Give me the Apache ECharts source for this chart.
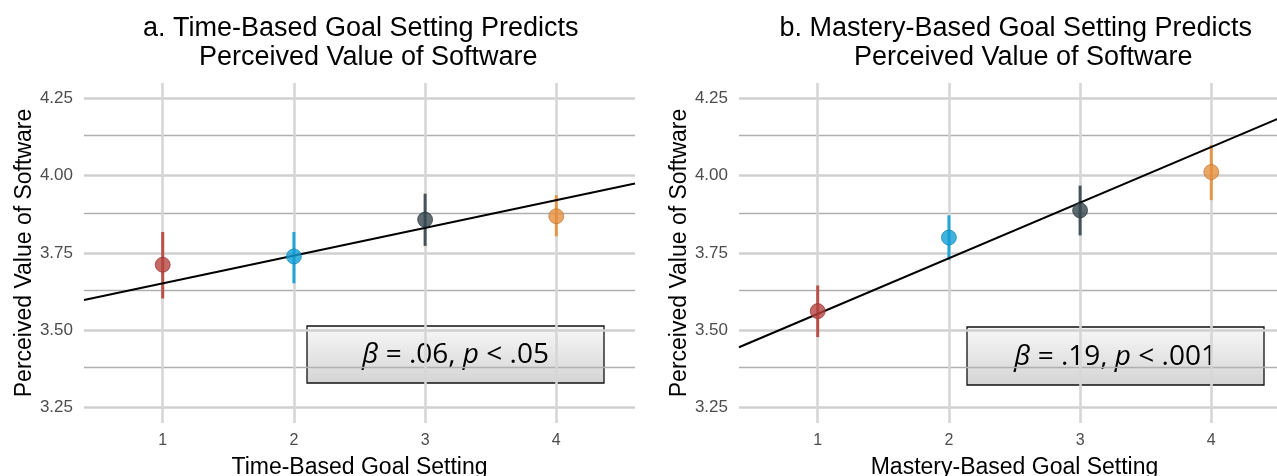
<!DOCTYPE html>
<html>
<head>
<meta charset="utf-8">
<script src="https://cdn.jsdelivr.net/npm/echarts@6/dist/echarts.min.js"></script>
<style>
html,body{margin:0;padding:0;background:#fff;overflow:hidden;width:1277px;height:476px;}
#chart{width:1300px;height:476px;}
</style>
</head>
<body>
<div id="chart"></div>
<script>
// ---- data ----
const xCats = [1, 2, 3, 4];
const yTicks = [3.25, 3.5, 3.75, 4.0, 4.25];
const yMinor = [3.375, 3.625, 3.875, 4.125];
const pointColors = ['#B5443E', '#129FD6', '#36474F', '#E5903F'];
const pointBorders = ['#8E2E2A', '#0B7FAD', '#222E33', '#B86E2C'];

const timeMeans = [3.712, 3.739, 3.858, 3.869];
const timeLow   = [3.603, 3.652, 3.773, 3.804];
const timeHigh  = [3.818, 3.818, 3.942, 3.937];
const timeFit   = [[0.4, 3.598], [4.6, 3.975]];

const masteryMeans = [3.562, 3.800, 3.888, 4.012];
const masteryLow   = [3.478, 3.728, 3.807, 3.921];
const masteryHigh  = [3.645, 3.872, 3.968, 4.099];
const masteryFit   = [[0.4, 3.445], [4.6, 4.201]];

const titles = ['a. Time-Based Goal Setting Predicts \n Perceived Value of Software',
                'b. Mastery-Based Goal Setting Predicts \n Perceived Value of Software'];
const xNames = ['Time-Based Goal Setting', 'Mastery-Based Goal Setting'];
const yName = 'Perceived Value of Software';
const annotations = ['{i|β} = .06, {i|p} < .05', '{i|β} = .19, {i|p} < .001'];

// ---- layout ----
const grids = [
  {left: 84, top: 83, width: 551, height: 340, outerBoundsMode: 'none', containLabel: false},
  {left: 739, top: 83, width: 551, height: 340, outerBoundsMode: 'none', containLabel: false}
];
const boxes = [
  {x: 307, y: 326, w: 297, h: 57},
  {x: 967, y: 327, w: 297, h: 58}
];
const SANS = 'Liberation Sans';

function panelAxes(i) {
  const x = {
    gridIndex: i, type: 'value', min: 0.4, max: 4.6,
    axisLine: {show: false}, axisTick: {show: false}, splitLine: {show: false},
    axisLabel: {customValues: xCats, color: '#4d4d4d', fontSize: 16, fontFamily: SANS, margin: 10,
                formatter: v => String(Math.round(v))},
    name: xNames[i], nameLocation: 'middle', nameGap: 33,
    nameTextStyle: {color: '#000', fontSize: 23, fontFamily: SANS}
  };
  const y = {
    gridIndex: i, type: 'value', min: 3.2, max: 4.3,
    axisLine: {show: false}, axisTick: {show: false}, splitLine: {show: false},
    axisLabel: {customValues: yTicks, color: '#4d4d4d', fontSize: 17, fontFamily: SANS, margin: 11,
                formatter: v => v.toFixed(2)},
    name: yName, nameLocation: 'middle', nameGap: 47,
    nameTextStyle: {color: '#000', fontSize: 23, fontFamily: SANS}
  };
  return {x, y};
}

function panelSeries(i, means, low, high, fit) {
  const gridLines = [];
  yMinor.forEach(v => gridLines.push({yAxis: v, lineStyle: {color: '#b0b0b0', width: 1.3, type: 'solid'}}));
  yTicks.forEach(v => gridLines.push({yAxis: v, lineStyle: {color: '#d0d0d0', width: 2.6, type: 'solid'}}));
  xCats.forEach(v => gridLines.push({xAxis: v, lineStyle: {color: '#d6d6d6', width: 2.6, type: 'solid'}}));
  return [
    {
      type: 'line', xAxisIndex: i, yAxisIndex: i, data: [], z: 1, silent: true,
      markLine: {z: 1, symbol: ['none', 'none'], silent: true, animation: false,
                 label: {show: false}, data: gridLines}
    },
    {
      type: 'custom', xAxisIndex: i, yAxisIndex: i, z: 10, silent: true, animation: false,
      data: xCats.map((c, k) => [c, low[k], high[k], k]),
      renderItem: (params, api) => {
        const p1 = api.coord([api.value(0), api.value(1)]);
        const p2 = api.coord([api.value(0), api.value(2)]);
        const k = api.value(3);
        return {type: 'line', shape: {x1: p1[0], y1: p1[1], x2: p2[0], y2: p2[1]},
                style: {stroke: pointColors[k], lineWidth: 3, opacity: 0.92}};
      }
    },
    {
      type: 'line', xAxisIndex: i, yAxisIndex: i, z: 11, data: fit, showSymbol: false,
      lineStyle: {color: '#000', width: 2}, silent: true, animation: false
    },
    {
      type: 'scatter', xAxisIndex: i, yAxisIndex: i, z: 12, symbolSize: 15, animation: false,
      data: xCats.map((c, k) => ({value: [c, means[k]],
        itemStyle: {color: pointColors[k], borderColor: pointBorders[k], borderWidth: 0.8}}))
    }
  ];
}

const a0 = panelAxes(0), a1 = panelAxes(1);

const graphic = boxes.map((b, i) => ({
  type: 'group', z: 100,
  children: [
    {type: 'rect', shape: {x: b.x, y: b.y, width: b.w, height: b.h},
     style: {fill: {type: 'linear', x: 0, y: 0, x2: 0, y2: 1,
                    colorStops: [{offset: 0, color: '#f8f8f8'}, {offset: 1, color: '#d4d4d4'}]},
             stroke: '#111', lineWidth: 1.3}},
    {type: 'text', x: b.x + b.w / 2, y: b.y + b.h / 2 + 1,
     style: {text: annotations[i], align: 'center', verticalAlign: 'middle',
             font: '28px "Open Sans"', fill: '#000',
             rich: {i: {fontStyle: 'italic', fontSize: 28, fontFamily: 'Open Sans', fill: '#000'}}}}
  ]
}));

const chart = echarts.init(document.getElementById('chart'), null, {renderer: 'canvas'});
chart.setOption({
  animation: false,
  backgroundColor: '#fff',
  title: titles.map((t, i) => ({
    text: t, left: grids[i].left + grids[i].width / 2, top: 9, textAlign: 'center',
    textStyle: {fontFamily: SANS, fontSize: 27, fontWeight: 'normal', color: '#000', lineHeight: 29}
  })),
  grid: grids,
  xAxis: [a0.x, a1.x],
  yAxis: [a0.y, a1.y],
  series: [].concat(
    panelSeries(0, timeMeans, timeLow, timeHigh, timeFit),
    panelSeries(1, masteryMeans, masteryLow, masteryHigh, masteryFit)
  ),
  graphic: graphic
});
</script>
</body>
</html>
